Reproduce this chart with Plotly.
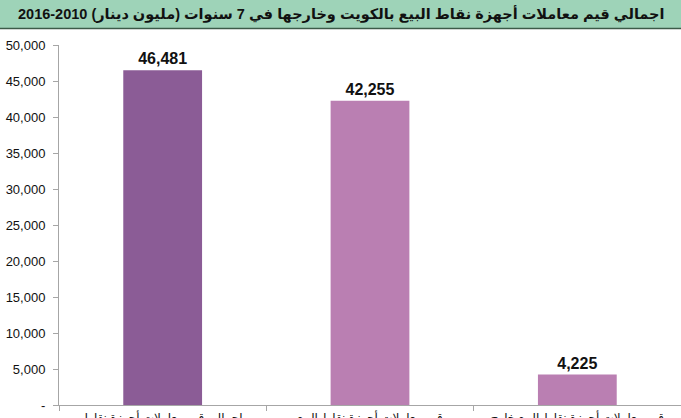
import plotly.graph_objects as go

title_text = "اجمالي قيم معاملات أجهزة نقاط البيع بالكويت وخارجها في 7 سنوات (مليون دينار) 2010-2016"
categories = [
    "اجمالي قيم معاملات أجهزة نقاط<br>البيع",
    "قيم معاملات أجهزة نقاط البيع<br>بالكويت",
    "قيم معاملات أجهزة نقاط البيع خارج<br>الكويت",
]
values = [46481, 42255, 4225]
bar_colors = ["#8B5C96", "#BA7FB2", "#BA7FB2"]
y_tickvals = [0, 5000, 10000, 15000, 20000, 25000, 30000, 35000, 40000, 45000, 50000]
y_ticktext = ["-", "5,000", "10,000", "15,000", "20,000", "25,000", "30,000",
              "35,000", "40,000", "45,000", "50,000"]

W, H = 681, 418
ML, MR, MT, MB = 59, 0, 45, 13
ph = H - MT - MB
pw = W - ML - MR

def py(p):  # pixel y -> paper y
    return (H - MB - p) / ph

def px(p):
    return (p - ML) / pw

fig = go.Figure(go.Bar(
    x=categories, y=values,
    marker=dict(color=bar_colors, line=dict(width=0)),
    text=[f"{v:,}" for v in values],
    textposition="outside",
    textfont=dict(family="Arial, Liberation Sans, sans-serif", size=16, color="#111111", weight="bold"),
    cliponaxis=False,
))

fig.update_layout(
    width=W, height=H,
    margin=dict(l=ML, r=MR, t=MT, b=MB),
    paper_bgcolor="white", plot_bgcolor="white",
    bargap=0.62,
    showlegend=False,
    font=dict(family="Arial, Liberation Sans, DejaVu Sans, sans-serif"),
    xaxis=dict(
        range=[-0.5, 2.5],
        showline=True, linecolor="#A6A6A6", linewidth=1,
        ticks="outside", tickson="boundaries", ticklen=5, tickcolor="#A6A6A6",
        tickfont=dict(size=12, color="#111111"),
        ticklabelstandoff=2,
        automargin=False, showgrid=False,
    ),
    yaxis=dict(
        range=[0, 50000],
        tickvals=y_tickvals, ticktext=y_ticktext,
        showline=True, linecolor="#A6A6A6", linewidth=1,
        ticks="outside", ticklen=5, tickcolor="#A6A6A6",
        tickfont=dict(size=13, color="#111111"),
        ticklabelstandoff=5,
        showgrid=False, zeroline=False, automargin=False,
    ),
    shapes=[
        dict(type="rect", xref="paper", yref="paper",
             x0=px(-2), x1=px(W + 2), y0=py(28), y1=py(-2),
             fillcolor="#9ED3B8", line=dict(width=0), layer="below"),
        dict(type="line", xref="paper", yref="paper",
             x0=px(-2), x1=px(W + 2), y0=py(28.5), y1=py(28.5),
             line=dict(color="#3C5A48", width=1.5)),
    ],
    annotations=[
        dict(text="<b>" + title_text + "</b>", xref="paper", yref="paper",
             x=px(W / 2), y=py(14), xanchor="center", yanchor="middle",
             showarrow=False,
             font=dict(family="Liberation Sans, DejaVu Sans, sans-serif", size=14.5, color="#111111")),
    ],
)

fig.write_html("out.html", config={"displayModeBar": False},
               post_script="document.body.style.margin='0';document.body.style.overflow='hidden';")
